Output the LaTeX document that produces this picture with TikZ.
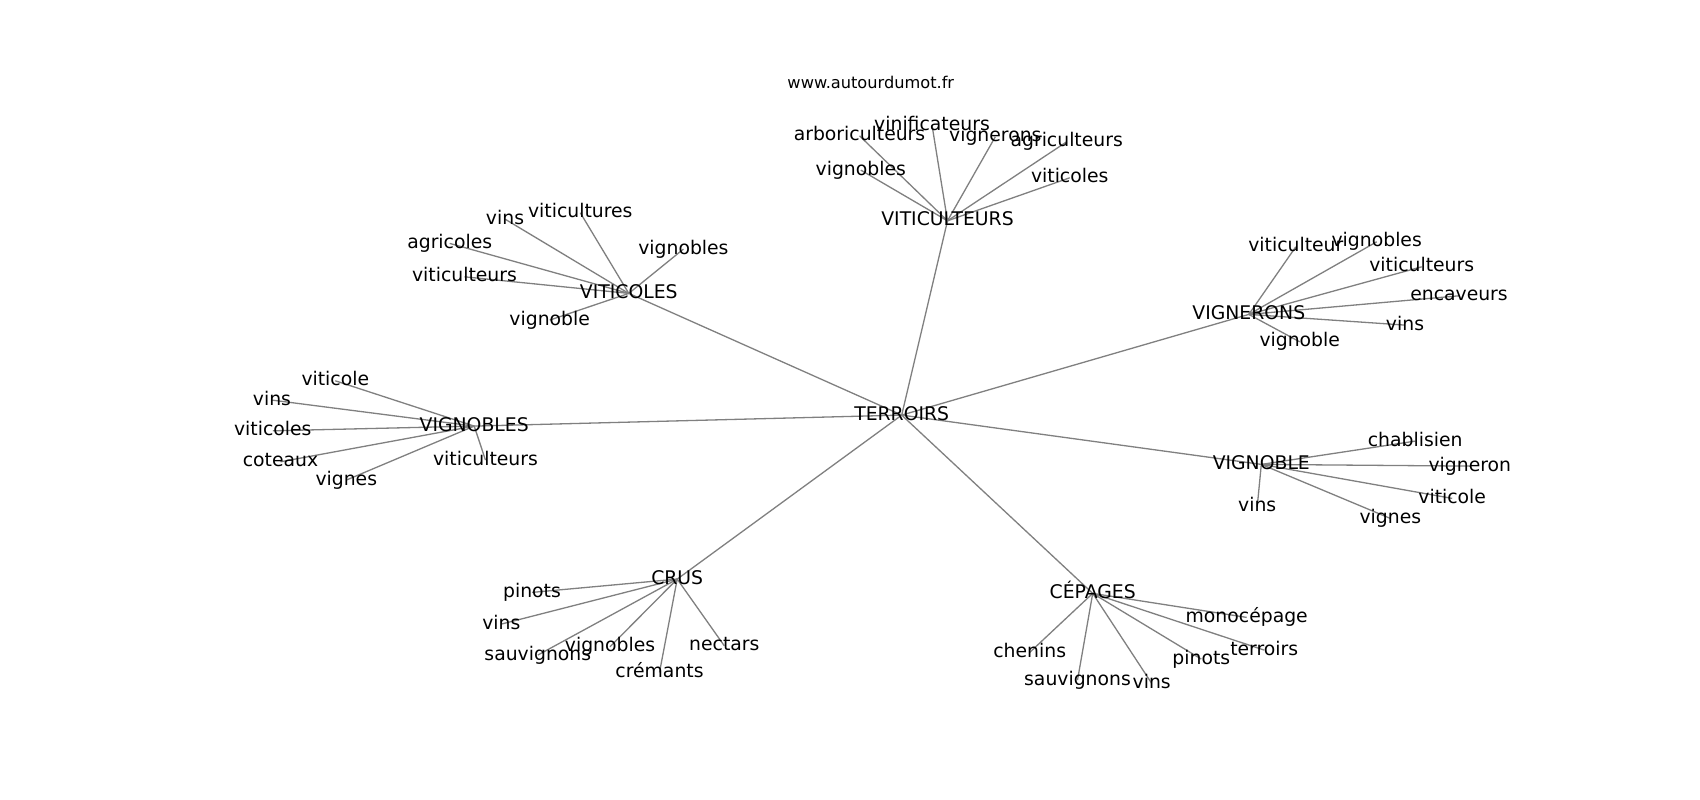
\documentclass[tikz,border=0pt]{standalone}
\usepackage{fontspec}
\setmainfont{DejaVu Sans}
\usetikzlibrary{backgrounds}
\tikzset{
  lab/.style={font=\fontsize{18.8}{22}\selectfont, inner sep=0pt, text height=14.3pt, text depth=4.5pt},
  small/.style={font=\fontsize{16.2}{19}\selectfont, inner sep=0pt, text height=12.3pt, text depth=3.9pt},
  edge/.style={draw=black!50, line width=1.3pt}
}
\begin{document}
\begin{tikzpicture}[x=1pt,y=-1pt]
\useasboundingbox (0,0) rectangle (1700,800);
\node[small] (www) at (870.8,84.1) {www.autourdumot.fr};
% hub
\node[lab] (T) at (901.7,415.1) {TERROIRS};
% VITICULTEURS
\node[lab] (A) at (947.5,220.8) {VITICULTEURS};
\node[lab] (a1) at (932,125.1) {vinificateurs};
\node[lab] (a2) at (859.5,135.8) {arboriculteurs};
\node[lab] (a3) at (995.3,136.8) {vignerons};
\node[lab] (a4) at (1066.7,141.8) {agriculteurs};
\node[lab] (a5) at (860.8,170.1) {vignobles};
\node[lab] (a6) at (1069.7,177.8) {viticoles};
% VITICOLES
\node[lab] (B) at (628.8,293.4) {VITICOLES};
\node[lab] (b1) at (505,219.1) {vins};
\node[lab] (b2) at (580.3,212.8) {viticultures};
\node[lab] (b3) at (449.7,243.4) {agricoles};
\node[lab] (b4) at (683.4,249.1) {vignobles};
\node[lab] (b5) at (464.5,276.8) {viticulteurs};
\node[lab] (b6) at (549.7,320.1) {vignoble};
% VIGNERONS
\node[lab] (C) at (1248.8,314.4) {VIGNERONS};
\node[lab] (c1) at (1295.8,246.8) {viticulteur};
\node[lab] (c2) at (1376.7,241.8) {vignobles};
\node[lab] (c3) at (1421.7,266.8) {viticulteurs};
\node[lab] (c4) at (1459,295.8) {encaveurs};
\node[lab] (c5) at (1405,325.1) {vins};
\node[lab] (c6) at (1299.7,341.8) {vignoble};
% VIGNOBLES
\node[lab] (D) at (474.2,426.1) {VIGNOBLES};
\node[lab] (d1) at (335.3,380.8) {viticole};
\node[lab] (d2) at (272,400.1) {vins};
\node[lab] (d3) at (272.8,430.8) {viticoles};
\node[lab] (d4) at (280.5,461.8) {coteaux};
\node[lab] (d5) at (346.3,480.1) {vignes};
\node[lab] (d6) at (485.5,460.1) {viticulteurs};
% VIGNOBLE
\node[lab] (E) at (1261.3,464.4) {VIGNOBLE};
\node[lab] (e1) at (1415.2,441.1) {chablisien};
\node[lab] (e2) at (1469.8,466.1) {vigneron};
\node[lab] (e3) at (1452.2,498.4) {viticole};
\node[lab] (e4) at (1257.2,506.8) {vins};
\node[lab] (e5) at (1390.3,518.4) {vignes};
% CRUS
\node[lab] (F) at (677.2,579.1) {CRUS};
\node[lab] (f1) at (532,592.4) {pinots};
\node[lab] (f2) at (501.3,624.1) {vins};
\node[lab] (f3) at (537.8,655.1) {sauvignons};
\node[lab] (f4) at (610,646.8) {vignobles};
\node[lab] (f5) at (724.3,645.8) {nectars};
\node[lab] (f6) at (659.5,672.4) {crémants};
% CEPAGES
\node[lab] (G) at (1092.7,593.4) {CÉPAGES};
\node[lab] (g1) at (1246.7,617.4) {monocépage};
\node[lab] (g2) at (1029.7,652.4) {chenins};
\node[lab] (g3) at (1077.5,680.1) {sauvignons};
\node[lab] (g4) at (1151.7,683.4) {vins};
\node[lab] (g5) at (1201.3,659.1) {pinots};
\node[lab] (g6) at (1264.2,650.1) {terroirs};
\begin{pgfonlayer}{background}
\fill[white] (0,0) rectangle (1700,800);
\foreach \g in {A,B,C,D,E,F,G} \draw[edge] (T.center) -- (\g.center);
\foreach \l in {a1,a2,a3,a4,a5,a6} \draw[edge] (A.center) -- (\l.center);
\foreach \l in {b1,b2,b3,b4,b5,b6} \draw[edge] (B.center) -- (\l.center);
\foreach \l in {c1,c2,c3,c4,c5,c6} \draw[edge] (C.center) -- (\l.center);
\foreach \l in {d1,d2,d3,d4,d5,d6} \draw[edge] (D.center) -- (\l.center);
\foreach \l in {e1,e2,e3,e4,e5} \draw[edge] (E.center) -- (\l.center);
\foreach \l in {f1,f2,f3,f4,f5,f6} \draw[edge] (F.center) -- (\l.center);
\foreach \l in {g1,g2,g3,g4,g5,g6} \draw[edge] (G.center) -- (\l.center);
\end{pgfonlayer}
\end{tikzpicture}
\end{document}
